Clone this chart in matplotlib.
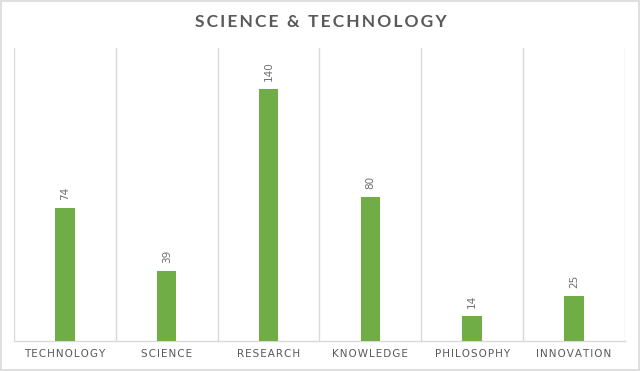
import numpy as np
import matplotlib.pyplot as plt

categories = ['TECHNOLOGY', 'SCIENCE', 'RESEARCH', 'KNOWLEDGE', 'PHILOSOPHY', 'INNOVATION']
values = [74, 39, 140, 80, 14, 25]

'''
Spread letters out a bit, like the letter spacing in the original
'''
def spaced(s, gap='\u200a'):
    return gap.join(list(s))

fig = plt.figure(figsize=(6.41, 3.71), dpi=100)
fig.patch.set_facecolor('white')
# light border round the whole chart
fig.patches.append(plt.Rectangle((0.002, 0.003), 0.995, 0.993, transform=fig.transFigure,
                                 fill=False, edgecolor='#D9D9D9', linewidth=1.2))

ax = fig.add_axes([0.0218, 0.0809, 0.953, 0.7897])
x = np.arange(len(categories))
bars = ax.bar(x, values, width=0.19, color='#70AD47', zorder=3)

for xi, v in zip(x, values):
    ax.text(xi, v + 4.5, str(v), rotation=90, ha='center', va='bottom',
            fontsize=7.5, color='#707070')

ax.set_xlim(-0.5, len(categories) - 0.5)
ax.set_ylim(0, 163)
ax.set_yticks([])
ax.set_xticks(x)
ax.set_xticklabels([spaced(c) for c in categories],
                   fontsize=7.5, color='#595959')
ax.tick_params(axis='x', length=0, pad=6)
ax.set_xticks(np.arange(-0.5, len(categories)), minor=True)
ax.tick_params(axis='x', which='minor', length=0)
ax.grid(axis='x', which='minor', color='#D9D9D9', linewidth=1, zorder=0)

for s in ['top', 'left', 'right']:
    ax.spines[s].set_visible(False)
ax.spines['bottom'].set_color('#D9D9D9')
ax.spines['bottom'].set_linewidth(1)

fig.text(0.5, 0.94, spaced('SCIENCE & TECHNOLOGY', '\u2009'), ha='center', va='center',
         fontsize=12.5, fontweight='bold', color='#595959', family=['Lato', 'DejaVu Sans'])

fig.savefig('out.png', dpi=100)
